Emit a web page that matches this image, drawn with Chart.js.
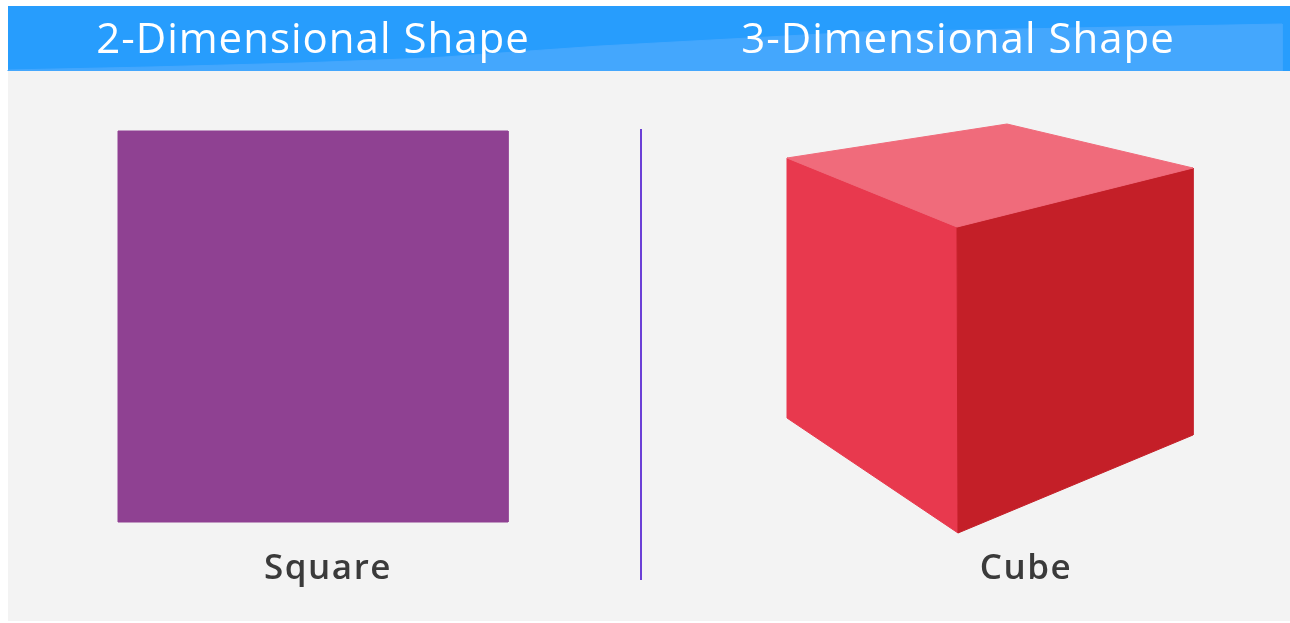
<!DOCTYPE html>
<html>
<head>
<meta charset="utf-8">
<script src="https://cdn.jsdelivr.net/npm/chart.js@4.4.0/dist/chart.umd.min.js"></script>
<style>
  html, body { margin: 0; padding: 0; background: #ffffff; }
  #wrap { width: 1290px; height: 623px; }
</style>
</head>
<body>
<div id="wrap"><canvas id="shapes" width="1290" height="623"></canvas></div>
<script>
// Shape outlines (in picture units, x right / y down)
const squareX = [118, 508, 508, 118, 118];
const squareY = [131, 131, 522, 522, 131];

const cubeTopX = [787, 1007, 1193, 957, 787];
const cubeTopY = [158, 124, 168, 227, 158];
const cubeLeftX = [787, 957, 958, 787, 787];
const cubeLeftY = [158, 227, 533, 418, 158];
const cubeRightX = [957, 1193, 1193, 958, 957];
const cubeRightY = [227, 168, 435, 533, 227];

const dividerX = [641, 641];
const dividerY = [129, 580];

// lighter sweep in the header bar
const bandX = [8, 8, 150, 300, 430, 600, 860, 1282, 1282];
const bandY = [71, 70, 67, 63, 58, 46, 32, 24, 71];

// Texts
const headerLabels = ["2-Dimensional Shape", "3-Dimensional Shape"];
const headerCenters = [313, 958];
const shapeLabels = ["Square", "Cube"];
const shapeCenters = [328, 1026];

function pts(xs, ys) {
    return xs.map((x, i) => ({ x: x, y: ys[i] }));
}

function polygon(xs, ys, color, order) {
    return {
        data: pts(xs, ys),
        showLine: true,
        fill: 'shape',
        backgroundColor: color,
        borderColor: color,
        borderWidth: 1,
        pointRadius: 0,
        tension: 0,
        order: order
    };
}

// Background panel + header bar + texts
const backdrop = {
    id: 'backdrop',
    beforeDatasetsDraw(chart) {
        const { ctx, scales: { x, y } } = chart;
        ctx.save();
        ctx.fillStyle = '#ffffff';
        ctx.fillRect(0, 0, chart.width, chart.height);
        ctx.fillStyle = '#f3f3f3';
        ctx.fillRect(x.getPixelForValue(8), y.getPixelForValue(6),
            x.getPixelForValue(1290) - x.getPixelForValue(8), y.getPixelForValue(621) - y.getPixelForValue(6));
        ctx.fillStyle = '#279dfd';
        ctx.fillRect(x.getPixelForValue(8), y.getPixelForValue(6),
            x.getPixelForValue(1290) - x.getPixelForValue(8), y.getPixelForValue(71) - y.getPixelForValue(6));
        ctx.restore();
    },
    afterDatasetsDraw(chart) {
        const { ctx, scales: { x, y } } = chart;
        ctx.save();
        ctx.textAlign = 'center';
        ctx.textBaseline = 'middle';
        ctx.fillStyle = '#ffffff';
        ctx.font = '500 42px "Open Sans", sans-serif';
        ctx.letterSpacing = '1px';
        headerLabels.forEach((t, i) => {
            ctx.fillText(t, x.getPixelForValue(headerCenters[i]), y.getPixelForValue(41));
        });
        ctx.fillStyle = '#3a3a3a';
        ctx.font = '600 35px "Open Sans", sans-serif';
        ctx.letterSpacing = '1.5px';
        shapeLabels.forEach((t, i) => {
            ctx.fillText(t, x.getPixelForValue(shapeCenters[i]), y.getPixelForValue(569));
        });
        ctx.restore();
    }
};

const chart = new Chart(document.getElementById('shapes').getContext('2d'), {
    type: 'scatter',
    data: {
        datasets: [
            polygon(bandX, bandY, '#44a7fd', 6),
            polygon(squareX, squareY, '#8f4192', 5),
            polygon(cubeLeftX, cubeLeftY, '#e8394e', 4),
            polygon(cubeRightX, cubeRightY, '#c41f28', 3),
            polygon(cubeTopX, cubeTopY, '#f06b7b', 2),
            {
                data: pts(dividerX, dividerY),
                showLine: true,
                borderColor: '#6b3fd6',
                borderWidth: 2,
                pointRadius: 0,
                order: 1
            }
        ]
    },
    options: {
        responsive: false,
        animation: false,
        events: [],
        layout: { padding: 0 },
        plugins: { legend: { display: false }, tooltip: { enabled: false } },
        scales: {
            x: { type: 'linear', min: 0, max: 1290, display: false },
            y: { type: 'linear', min: 0, max: 623, reverse: true, display: false }
        }
    },
    plugins: [backdrop]
});
</script>
</body>
</html>
